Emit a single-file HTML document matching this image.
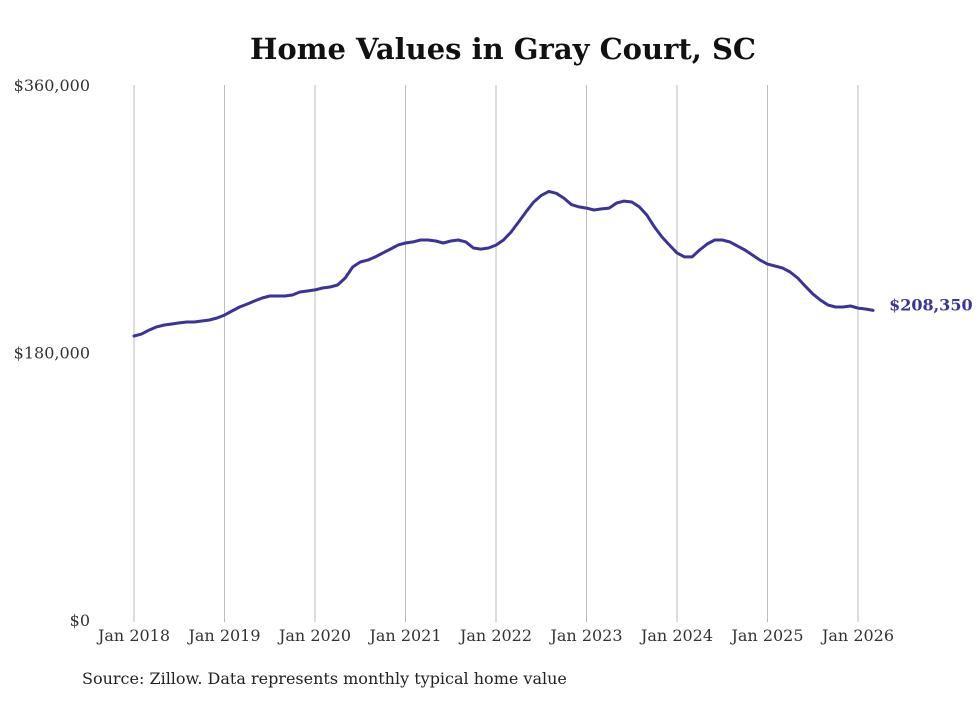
<!DOCTYPE html>
<html><head><meta charset="utf-8">
<style>
html,body{margin:0;padding:0;background:#fff;}
body{width:980px;height:699px;overflow:hidden;font-family:"DejaVu Serif","Liberation Serif",serif;}
svg text{font-family:"DejaVu Serif","Liberation Serif",serif;}
</style></head>
<body>
<svg id="chart" width="980" height="699" xmlns="http://www.w3.org/2000/svg">
<text x="503" y="59" text-anchor="middle" font-weight="bold" font-size="29" fill="#111">Home Values in Gray Court, SC</text>
<g id="grid"></g><g id="yaxis"></g><g id="xaxis"></g><g id="series"></g>
<text x="82" y="684" font-size="16" fill="#222">Source: Zillow. Data represents monthly typical home value</text>
</svg>
<script>
const yTicks=[0,180000,360000];
const yTickLabels=["$0","$180,000","$360,000"];
const xYears=[2018,2019,2020,2021,2022,2023,2024,2025,2026];
const xTickLabels=["Jan 2018","Jan 2019","Jan 2020","Jan 2021","Jan 2022","Jan 2023","Jan 2024","Jan 2025","Jan 2026"];
const startYear=2018;
const values=[
191.1,192.4,195.1,197.2,198.5,199.2,199.9,200.5,200.5,201.2,201.9,203.2,
205.2,207.9,210.6,212.6,214.7,216.7,218.0,218.0,218.0,218.7,220.7,221.4,
222.1,223.4,224.1,225.4,230.1,237.5,240.9,242.2,244.3,247.0,249.6,252.3,
253.7,254.4,255.7,255.7,255.0,253.7,255.0,255.7,254.4,250.3,249.6,250.3,
252.3,255.7,261.1,267.8,274.8,281.3,285.7,288.4,287.1,283.9,279.5,278.0,
277.2,275.9,276.6,277.2,280.6,281.9,281.3,278.0,272.5,264.5,257.8,252.3,
247.0,244.3,244.3,249.0,253.0,255.7,255.7,254.4,251.7,249.0,245.6,242.2,
239.5,238.2,236.8,234.2,230.1,224.7,219.4,215.3,212.0,210.6,210.6,211.3,
209.9,209.3,208.35];
const lastLabel="$208,350";
const NS="http://www.w3.org/2000/svg";
const x0=134,pxYear=90.5,yBase=620,yTop=85;
function X(monthIndex){return x0+monthIndex/12*pxYear;}
function Y(v){return yBase-v/360000*(yBase-yTop);}
function mk(tag,attrs,parent){const e=document.createElementNS(NS,tag);for(const k in attrs)e.setAttribute(k,attrs[k]);parent.appendChild(e);return e;}
const grid=document.getElementById('grid'),ya=document.getElementById('yaxis'),xa=document.getElementById('xaxis'),se=document.getElementById('series');
xYears.forEach((yr,i)=>{
 const x=X((yr-startYear)*12);
 const l=mk('line',{x1:x,x2:x,y1:yTop,y2:yBase+2,stroke:'#bbb','stroke-width':1},grid);
 
 
 const t=mk('text',{x:x,y:641,'text-anchor':'middle','font-size':16,fill:'#333'},xa);
 t.textContent=xTickLabels[i];
 
 
});
yTicks.forEach((v,i)=>{
 const t=mk('text',{x:90,y:Y(v)+6,'text-anchor':'end','font-size':16,fill:'#333'},ya);
 t.textContent=yTickLabels[i];
 
 
});
const d=values.map((v,i)=>(i?'L':'M')+X(i).toFixed(1)+' '+Y(v*1000).toFixed(1)).join(' ');
const p=mk('path',{d:d,fill:'none',stroke:'#3b3399','stroke-width':3,'stroke-linejoin':'round','stroke-linecap':'round'},se);


const li=values.length-1;
const lt=mk('text',{x:X(li)+16,y:Y(values[li]*1000)+0,'font-size':16,'font-weight':'bold',fill:'#3b3399'},se);
lt.textContent=lastLabel;


</script>
</body></html>
